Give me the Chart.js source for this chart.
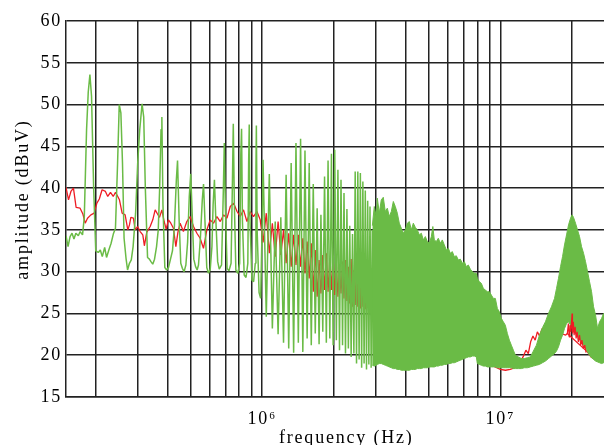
<!DOCTYPE html>
<html>
<head>
<meta charset="utf-8">
<script src="https://cdn.jsdelivr.net/npm/chart.js@4.4.1/dist/chart.umd.min.js"></script>
<style>
    html, body { margin: 0; padding: 0; background: #fff; overflow: hidden; }
    #spectrum-chart { display: block; }
</style>
</head>
<body>
<canvas id="spectrum-chart" width="614" height="449"></canvas>
<script>
// Frequencies in MHz, amplitudes in dBuV

// green trace, 150 kHz - 1 MHz
const greenLowFreq = [
    0.150, 0.153, 0.156, 0.159, 0.162, 0.165, 0.169, 0.172, 0.176, 0.179,
    0.183, 0.186, 0.189, 0.192, 0.196, 0.200, 0.205, 0.209, 0.213, 0.218,
    0.222, 0.227, 0.232, 0.237, 0.242, 0.247, 0.251, 0.255, 0.259, 0.263,
    0.268, 0.272, 0.277, 0.282, 0.287, 0.294, 0.300, 0.306, 0.313, 0.318,
    0.323, 0.330, 0.336, 0.341, 0.347, 0.353, 0.360, 0.366, 0.371, 0.376,
    0.379, 0.383, 0.390, 0.397, 0.404, 0.412, 0.420, 0.428, 0.436, 0.441,
    0.448, 0.455, 0.462, 0.470, 0.478, 0.486, 0.494, 0.501, 0.508, 0.516,
    0.525, 0.533, 0.540, 0.550, 0.560, 0.567, 0.575, 0.585, 0.595, 0.605,
    0.615, 0.622, 0.630, 0.638, 0.650, 0.660, 0.675, 0.687, 0.693, 0.700,
    0.712, 0.725, 0.740, 0.750, 0.756, 0.764, 0.775, 0.790, 0.804, 0.813,
    0.819, 0.826, 0.840, 0.855, 0.870, 0.877, 0.882, 0.889, 0.905, 0.920,
    0.935, 0.941, 0.945, 0.952, 0.970, 0.985
];
const greenLowAmp = [
    34.3, 33.0, 34.2, 34.6, 33.9, 34.6, 34.3, 34.8, 34.4, 36.5,
    47.0, 51.5, 53.6, 51.0, 40.0, 32.5, 32.3, 32.6, 31.8, 32.9,
    31.7, 32.6, 33.4, 34.5, 35.2, 43.0, 50.0, 49.0, 43.0, 34.0,
    31.6, 30.2, 31.0, 31.4, 33.0, 37.0, 43.0, 47.0, 50.1, 48.5,
    40.0, 31.7, 31.5, 31.2, 30.9, 31.5, 33.0, 35.0, 40.0, 47.0,
    48.5, 38.0, 30.5, 30.2, 30.5, 31.5, 32.5, 35.5, 41.0, 43.3,
    36.0, 31.0, 30.4, 30.0, 30.8, 33.5, 39.0, 41.7, 37.0, 31.5,
    30.6, 30.2, 30.8, 34.0, 38.5, 40.5, 36.0, 30.5, 29.8, 30.3,
    33.0, 38.0, 41.0, 36.5, 31.2, 30.3, 30.8, 40.0, 45.4, 38.0,
    30.4, 30.1, 31.0, 41.0, 47.7, 38.0, 30.2, 29.8, 31.0, 44.0,
    47.1, 36.0, 29.6, 29.3, 31.0, 43.0, 47.6, 36.0, 29.0, 28.8,
    31.0, 42.0, 47.5, 35.0, 27.5, 26.8
];

// green trace, 1 - 3 MHz (harmonic spikes and the dips between them)
const greenMidFreq = [
    1.000, 1.008, 1.040, 1.071, 1.103, 1.134, 1.166, 1.197, 1.229, 1.260,
    1.292, 1.323, 1.355, 1.386, 1.418, 1.449, 1.481, 1.512, 1.544, 1.575,
    1.607, 1.638, 1.670, 1.701, 1.733, 1.764, 1.796, 1.827, 1.859, 1.890,
    1.922, 1.953, 1.985, 2.016, 2.048, 2.079, 2.111, 2.142, 2.174, 2.205,
    2.237, 2.268, 2.300, 2.331, 2.363, 2.394, 2.426, 2.457, 2.489, 2.520,
    2.552, 2.583, 2.615, 2.646, 2.678, 2.709, 2.741, 2.772, 2.804, 2.835,
    2.867, 2.898, 2.930, 2.961, 2.993
];
const greenMidAmp = [
    36.0, 43.4, 24.6, 41.7, 23.2, 36.0, 22.5, 36.5, 21.5, 41.6,
    20.8, 43.0, 20.3, 45.4, 21.5, 45.9, 20.4, 44.5, 22.0, 43.0,
    21.2, 40.5, 22.6, 37.6, 21.3, 36.8, 22.8, 41.4, 21.5, 43.3,
    22.0, 44.1, 21.2, 44.6, 21.8, 42.2, 20.6, 41.0, 21.2, 39.4,
    20.2, 37.5, 20.8, 35.5, 19.8, 34.5, 20.2, 42.0, 19.0, 42.0,
    19.5, 41.8, 18.5, 40.8, 19.0, 39.7, 18.3, 38.5, 18.9, 37.8,
    18.5, 35.0, 18.8, 36.0, 19.0
];

// green trace above 3 MHz is too dense to separate: upper / lower edge of the band
const bandFreq = [
    2.90, 2.955, 3.013, 3.043, 3.102, 3.162, 3.224, 3.287, 3.352, 3.417,
    3.484, 3.552, 3.621, 3.692, 3.764, 3.838, 3.913, 3.989, 4.067, 4.147,
    4.228, 4.310, 4.395, 4.480, 4.568, 4.657, 4.748, 4.841, 4.935, 5.032,
    5.130, 5.205, 5.280, 5.383, 5.488, 5.596, 5.705, 5.816, 5.930, 6.046,
    6.164, 6.284, 6.407, 6.532, 6.660, 6.790, 6.923, 7.058, 7.196, 7.336,
    7.480, 7.626, 7.775, 7.927, 8.004, 8.161, 8.320, 8.483, 8.648, 8.817,
    8.989, 9.165, 9.344, 9.526, 9.712, 9.902, 10.10, 10.29, 10.49, 10.70,
    10.91, 11.12, 11.34, 11.56, 11.90, 12.25, 12.61, 12.98, 13.37, 13.76,
    14.17, 14.59, 15.02, 15.46, 15.92, 16.39, 16.88, 17.21, 17.54, 17.89,
    18.24, 18.59, 18.96, 19.33, 19.71, 20.00, 20.28, 20.68, 21.08, 21.50,
    21.92, 22.35, 22.78, 23.23, 23.68, 24.15, 24.62, 25.10, 25.59, 26.09,
    26.60, 27.12, 27.65, 28.46, 30.00
];
const bandTop = [
    35.5, 37.8, 36.5, 38.8, 37.0, 38.6, 38.9, 37.2, 37.6, 36.6,
    37.2, 38.4, 37.8, 37.0, 35.8, 35.2, 34.6, 35.0, 35.8, 36.0,
    35.0, 35.8, 35.3, 35.0, 34.4, 34.6, 33.8, 34.2, 33.6, 33.4,
    34.2, 35.4, 33.8, 33.6, 34.0, 33.4, 33.8, 33.2, 32.6, 32.8,
    32.2, 32.4, 31.8, 31.9, 31.4, 31.5, 31.0, 31.2, 30.6, 30.8,
    30.3, 30.0, 29.8, 29.8, 29.2, 28.8, 28.6, 28.0, 27.8, 27.6,
    27.6, 27.2, 26.8, 26.8, 25.6, 25.2, 24.4, 24.0, 23.6, 22.6,
    21.8, 21.2, 20.6, 20.0, 19.8, 19.6, 19.6, 19.7, 19.8, 20.5,
    21.2, 22.4, 23.3, 24.0, 25.0, 25.8, 26.8, 28.0, 29.2, 30.6,
    31.8, 33.2, 34.4, 35.6, 36.4, 36.8, 36.5, 35.8, 35.0, 34.2,
    33.0, 32.2, 31.2, 30.0, 28.8, 27.6, 25.8, 24.8, 23.2, 24.0,
    24.4, 25.0, 24.6, 24.0, 23.5
];
const bandBottom = [
    18.8, 18.7, 18.8, 18.9, 19.0, 19.0, 18.9, 18.8, 18.7, 18.6,
    18.5, 18.4, 18.4, 18.3, 18.3, 18.2, 18.2, 18.2, 18.2, 18.2,
    18.3, 18.3, 18.3, 18.4, 18.4, 18.4, 18.5, 18.5, 18.5, 18.6,
    18.6, 18.6, 18.6, 18.7, 18.7, 18.8, 18.8, 18.9, 18.9, 19.0,
    19.0, 19.1, 19.1, 19.2, 19.3, 19.4, 19.5, 19.6, 19.7, 19.8,
    19.8, 19.9, 19.9, 19.8, 19.0, 18.9, 18.8, 18.7, 18.7, 18.6,
    18.6, 18.6, 18.6, 18.6, 18.5, 18.5, 18.5, 18.5, 18.5, 18.5,
    18.5, 18.5, 18.4, 18.4, 18.4, 18.4, 18.5, 18.5, 18.6, 18.7,
    18.8, 18.9, 19.1, 19.3, 19.6, 19.9, 20.2, 20.5, 21.0, 21.8,
    22.4, 23.2, 23.8, 24.0, 23.6, 23.2, 22.8, 22.6, 22.4, 22.0,
    21.6, 21.2, 20.8, 20.4, 20.0, 19.7, 19.5, 19.3, 19.2, 19.1,
    19.0, 19.1, 19.1, 19.0, 19.0
];

// red trace
const redFreq = [
    0.150, 0.1537, 0.1573, 0.1612, 0.1654, 0.1719, 0.1766, 0.1806, 0.1847, 0.1908,
    0.197, 0.2022, 0.207, 0.2126, 0.2196, 0.2246, 0.2306, 0.2368, 0.2421, 0.2474,
    0.2515, 0.2581, 0.2657, 0.2727, 0.2771, 0.2808, 0.2878, 0.2928, 0.2995, 0.3072,
    0.3152, 0.320, 0.3274, 0.3384, 0.3471, 0.3552, 0.3634, 0.3705, 0.3791, 0.3875,
    0.395, 0.4038, 0.4133, 0.4238, 0.4339, 0.4425, 0.4522, 0.4668, 0.4824, 0.4981,
    0.5146, 0.5318, 0.5486, 0.5667, 0.5855, 0.6047, 0.6247, 0.6454, 0.6665, 0.6886,
    0.7114, 0.7344, 0.7588, 0.7839, 0.8085, 0.8345, 0.8624, 0.8903, 0.9193, 0.950,
    0.9809,
    1.008, 1.040, 1.071, 1.103, 1.134, 1.166, 1.197, 1.229, 1.260, 1.292,
    1.323, 1.355, 1.386, 1.418, 1.449, 1.481, 1.512, 1.544, 1.575, 1.607,
    1.638, 1.670, 1.701, 1.733, 1.764, 1.796, 1.827, 1.859, 1.890, 1.922,
    1.953, 1.985, 2.016, 2.048, 2.079, 2.111, 2.142, 2.174, 2.205, 2.237,
    2.268, 2.300, 2.331, 2.363, 2.394, 2.426, 2.457, 2.489, 2.520, 2.552,
    2.583, 2.615, 2.646, 2.678, 2.709, 2.741, 2.772, 2.804, 2.835, 2.867,
    2.898, 2.930, 2.961, 2.993,
    3.2, 3.5, 4.0, 4.5, 5.0, 6.0, 7.0, 8.0, 9.0, 9.5,
    10.0, 10.5, 11.0, 11.5, 12.0, 12.5, 12.8, 13.1, 13.4, 13.7,
    14.0, 14.3, 14.6, 15.0, 15.5, 16.2, 17.0, 18.0, 18.8, 19.1,
    23.2, 24.0, 25.0, 26.5, 28.0, 30.0
];
const redAmp = [
    40.1, 38.6, 39.6, 40.0, 37.7, 37.6, 36.9, 35.8, 36.4, 36.8,
    37.0, 38.2, 38.7, 39.8, 39.6, 39.0, 39.5, 39.0, 39.5, 39.0,
    38.6, 37.0, 36.8, 35.0, 35.6, 36.5, 36.4, 35.0, 35.4, 34.8,
    34.4, 33.1, 34.7, 35.4, 36.2, 37.4, 36.9, 36.5, 37.4, 36.0,
    35.1, 36.2, 35.8, 35.2, 33.0, 34.7, 35.8, 34.8, 36.0, 36.6,
    35.4, 34.6, 34.0, 32.8, 35.0, 36.2, 35.8, 36.6, 36.0, 36.8,
    36.4, 37.8, 38.2, 37.2, 36.6, 37.4, 36.0, 37.2, 36.6, 37.2,
    36.2,
    33.5, 37.0, 32.2, 35.8, 31.8, 36.0, 32.0, 35.0, 31.0, 34.6,
    30.6, 34.4, 30.8, 34.4, 30.6, 34.0, 29.8, 33.6, 29.2, 33.4,
    27.6, 32.6, 27.0, 31.4, 27.4, 32.0, 27.8, 32.2, 27.6, 31.6,
    27.8, 32.0, 27.2, 31.0, 27.0, 30.8, 27.4, 31.2, 26.8, 31.4,
    26.5, 30.6, 26.2, 31.5, 25.8, 30.2, 26.0, 30.8, 25.8, 31.4,
    25.6, 30.2, 25.8, 30.8, 25.5, 29.6, 26.0, 30.0, 25.5, 29.2,
    25.8, 29.6, 25.4, 28.8,
    27.5, 28.0, 26.5, 26.0, 25.5, 24.0, 22.0, 20.5, 19.2, 18.6,
    18.3, 18.2, 18.3, 18.5, 19.0, 19.9, 20.6, 20.2, 21.6, 22.3,
    21.8, 22.8, 22.3, 23.2, 22.6, 23.0, 22.8, 22.6, 22.4, 22.6,
    20.4, 19.8, 19.5, 19.3, 19.2, 19.2
];

// red trace around the 20 MHz hump, where it shows through the green band
const redPeakFreq = [
    19.10, 19.30, 19.45, 19.60, 19.75, 19.90, 20.00, 20.08, 20.25, 20.40,
    20.60, 20.80, 21.00, 21.25, 21.50, 21.75, 22.00, 22.30, 22.60, 22.90
];
const redPeakAmp = [
    22.6, 23.8, 22.2, 23.6, 22.8, 24.0, 25.0, 22.6, 24.0, 22.4,
    23.4, 22.0, 22.8, 21.6, 22.4, 21.2, 21.8, 20.8, 21.2, 20.3
];

// vertical grid lines (3e7 falls just outside the visible window)
const xGridValues = [
    2e5, 3e5, 4e5, 5e5, 6e5, 7e5, 8e5, 9e5,
    1e6, 2e6, 3e6, 4e6, 5e6, 6e6, 7e6, 8e6, 9e6,
    1e7, 2e7
];
const decadeLabels = { 1000000: '10\u2076', 10000000: '10\u2077' };

const GREEN = '#6abb46';
const RED = '#ee1c24';
const GRID = '#222222';
const FONT = { family: "'Liberation Serif', 'Times New Roman', serif", size: 18 };

const toPoints = (freqMHz, amp) => freqMHz.map((f, i) => ({ x: f * 1e6, y: amp[i] }));

// wider letter spacing, like the original figure's text
const letterSpacing = {
    id: 'letterSpacing',
    beforeUpdate(chart) { chart.ctx.letterSpacing = '1.8px'; },
    beforeDraw(chart) { chart.ctx.letterSpacing = '1.8px'; }
};

const ctx = document.getElementById('spectrum-chart').getContext('2d');
const chart = new Chart(ctx, {
    type: 'line',
    data: {
        datasets: [
            {
                label: 'red (20 MHz)',
                data: toPoints(redPeakFreq, redPeakAmp),
                borderColor: RED,
                borderWidth: 1.2,
                order: 0
            },
            {
                label: 'green band top',
                data: toPoints(bandFreq, bandTop),
                borderColor: GREEN,
                backgroundColor: GREEN,
                borderWidth: 1,
                fill: '+1',
                order: 1
            },
            {
                label: 'green band bottom',
                data: toPoints(bandFreq, bandBottom),
                borderColor: GREEN,
                borderWidth: 1,
                order: 1
            },
            {
                label: 'green',
                data: toPoints(greenLowFreq.concat(greenMidFreq), greenLowAmp.concat(greenMidAmp)),
                borderColor: GREEN,
                borderWidth: 1.5,
                order: 2
            },
            {
                label: 'red',
                data: toPoints(redFreq, redAmp),
                borderColor: RED,
                borderWidth: 1.3,
                order: 3
            }
        ]
    },
    options: {
        responsive: false,
        animation: false,
        devicePixelRatio: 1,
        layout: { padding: { top: 21, left: 0, right: 0, bottom: 0 } },
        elements: {
            point: { radius: 0 },
            line: { tension: 0, borderJoinStyle: 'bevel' }
        },
        plugins: {
            legend: { display: false },
            tooltip: { enabled: false }
        },
        scales: {
            x: {
                type: 'logarithmic',
                min: 1.5e5,
                max: 3e7,
                z: 1,
                afterBuildTicks: scale => {
                    scale.ticks = xGridValues.map(v => ({ value: v }));
                },
                afterFit: scale => { scale.height = 52; },
                grid: { color: GRID, lineWidth: 1.5, drawTicks: false },
                border: { color: GRID, width: 1.5 },
                ticks: {
                    autoSkip: false,
                    maxRotation: 0,
                    padding: 11,
                    color: '#000',
                    font: FONT,
                    callback: value => decadeLabels[value] || ''
                },
                title: {
                    display: true,
                    text: '  frequency (Hz)',
                    color: '#000',
                    font: FONT,
                    padding: 0
                }
            },
            y: {
                min: 15,
                max: 60,
                z: 1,
                afterFit: scale => { scale.width = 66; },
                grid: { color: GRID, lineWidth: 1.5, drawTicks: false },
                border: { color: GRID, width: 1.5 },
                ticks: {
                    stepSize: 5,
                    padding: 4,
                    color: '#000',
                    font: FONT
                },
                title: {
                    display: true,
                    text: '   amplitude (dBuV)',
                    color: '#000',
                    font: FONT,
                    padding: { top: 12, bottom: 0 }
                }
            }
        }
    },
    plugins: [letterSpacing]
});
</script>
</body>
</html>
